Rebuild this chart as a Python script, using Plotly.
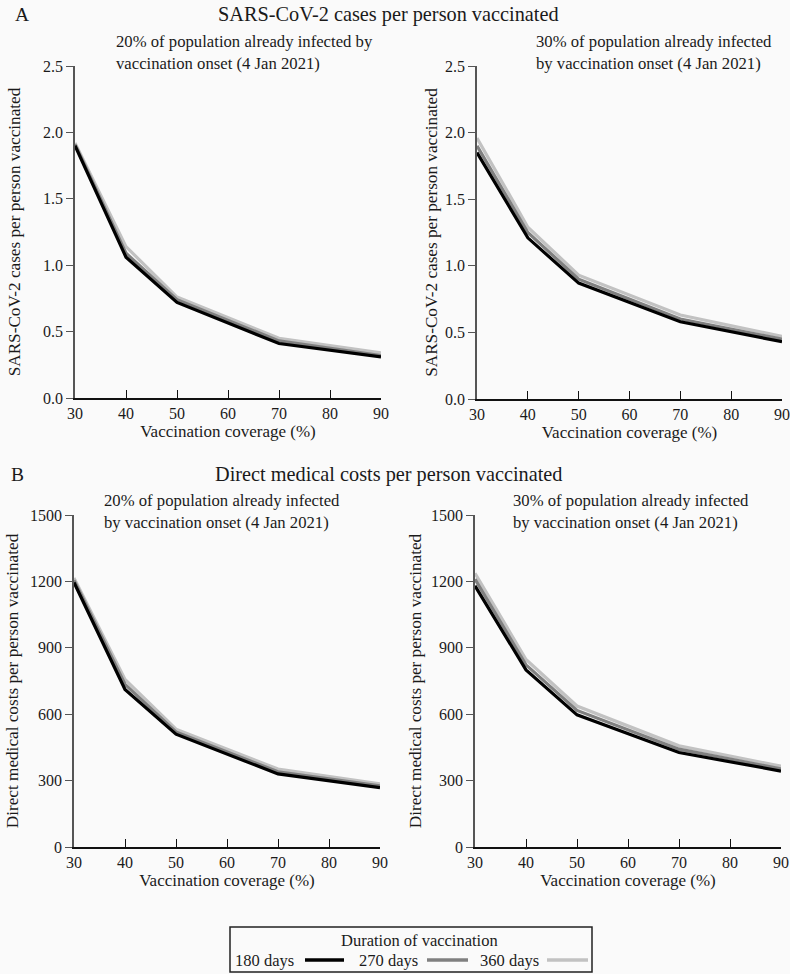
import plotly.graph_objects as go

# ---------------- data ----------------
coverage = [30, 40, 50, 70, 90]
durations = ["180 days", "270 days", "360 days"]
colors = ["#000000", "#808080", "#c2c2c2"]

cases_20 = {
    "180 days": [1.90, 1.06, 0.72, 0.41, 0.31],
    "270 days": [1.91, 1.09, 0.74, 0.43, 0.32],
    "360 days": [1.92, 1.14, 0.76, 0.45, 0.34],
}
cases_30 = {
    "180 days": [1.85, 1.21, 0.87, 0.58, 0.43],
    "270 days": [1.90, 1.25, 0.90, 0.60, 0.45],
    "360 days": [1.96, 1.29, 0.93, 0.63, 0.47],
}
costs_20 = {
    "180 days": [1195, 712, 510, 330, 268],
    "270 days": [1205, 735, 520, 340, 276],
    "360 days": [1215, 757, 532, 352, 285],
}
costs_30 = {
    "180 days": [1180, 800, 597, 427, 343],
    "270 days": [1210, 823, 617, 442, 353],
    "360 days": [1237, 847, 637, 457, 365],
}

x_ticks = [30, 40, 50, 60, 70, 80, 90]
cases_ticks = [0.0, 0.5, 1.0, 1.5, 2.0, 2.5]
cases_ticktext = ["0.0", "0.5", "1.0", "1.5", "2.0", "2.5"]
cost_ticks = [0, 300, 600, 900, 1200, 1500]

title_a = "SARS-CoV-2 cases per person vaccinated"
title_b = "Direct medical costs per person vaccinated"
sub_a20 = "20% of population already infected by<br>vaccination onset (4 Jan 2021)"
sub_a30 = "30% of population already infected<br>by vaccination onset (4 Jan 2021)"
sub_b20 = "20% of population already infected<br>by vaccination onset (4 Jan 2021)"
sub_b30 = "30% of population already infected<br>by vaccination onset (4 Jan 2021)"
x_title = "Vaccination coverage (%)"
legend_title = "Duration of vaccination"

# ---------------- layout helpers ----------------
W, H = 790, 974
FAM = "Liberation Serif"
TXT = "#1a1a1a"
BG = "#fafafa"


def fnt(size, color=TXT):
    return dict(family=FAM, size=size, color=color)


def px(x):
    return x / W


def py(y):
    return 1 - y / H


panels = [
    # (xaxis, yaxis, x0, x1, ytop, ybottom, data, y-title standoff)
    ("x", "y", 75, 381, 66, 398, cases_20, 18),
    ("x2", "y2", 477, 782, 66, 399, cases_30, 3),
    ("x3", "y3", 74, 380, 515, 847, costs_20, 7),
    ("x4", "y4", 475, 781, 515, 847, costs_30, 5),
]

fig = go.Figure()

for xa, ya, x0, x1, yt, yb, data, so in panels:
    for name, col in reversed(list(zip(durations, colors))):
        fig.add_trace(go.Scatter(
            x=coverage, y=data[name], mode="lines", name=name,
            line=dict(color=col, width=3.2), xaxis=xa, yaxis=ya,
            showlegend=False,
        ))

layout = dict(
    width=W, height=H,
    margin=dict(l=0, r=0, t=0, b=0, pad=0, autoexpand=False),
    paper_bgcolor=BG, plot_bgcolor=BG,
    font=fnt(16),
    showlegend=False,
)

for i, (xa, ya, x0, x1, yt, yb, data, so) in enumerate(panels):
    xk = "xaxis" if xa == "x" else "xaxis" + xa[1:]
    yk = "yaxis" if ya == "y" else "yaxis" + ya[1:]
    is_cases = i < 2
    layout[xk] = dict(
        domain=[px(x0), px(x1)], anchor=ya, range=[30, 90],
        tickvals=x_ticks, ticks="inside", ticklen=8, tickwidth=1.3,
        tickcolor="#111", showline=True, linecolor="#111", linewidth=1.5,
        showgrid=False, zeroline=False, tickfont=fnt(16), automargin=False,
        ticklabeloverflow="allow",
        title=dict(text=x_title, font=fnt(17), standoff=3),
    )
    ytitle = title_a if is_cases else title_b
    layout[yk] = dict(
        domain=[py(yb), py(yt)], anchor=xa,
        range=[0, 2.5] if is_cases else [0, 1500],
        tickvals=cases_ticks if is_cases else cost_ticks,
        ticktext=cases_ticktext if is_cases else [str(v) for v in cost_ticks],
        ticks="outside", ticklen=7, tickwidth=1.3, tickcolor="#555",
        showline=True, linecolor="#555", linewidth=1.5, automargin=False,
        showgrid=False, zeroline=False, tickfont=fnt(16),
        title=dict(text=ytitle, font=fnt(17.2), standoff=so),
    )

annotations = [
    dict(text="A", x=px(22), y=py(14), font=fnt(19.5)),
    dict(text=title_a, x=px(388), y=py(14), font=fnt(20.3)),
    dict(text="B", x=px(17), y=py(474), font=fnt(19.5)),
    dict(text=title_b, x=px(388), y=py(474), font=fnt(20.3)),
]
subs = [
    (sub_a20, 114, 52),
    (sub_a30, 534, 52),
    (sub_b20, 102, 511),
    (sub_b30, 511, 511),
]
for txt, sx, sy in subs:
    annotations.append(dict(text=txt, x=px(sx), y=py(sy), xanchor="left",
                            align="left", font=fnt(16.7)))

# custom legend (text before line sample, as in the reference)
shapes = [dict(type="rect", xref="paper", yref="paper",
               x0=px(230), x1=px(592), y0=py(972), y1=py(927),
               line=dict(color="#222", width=1.5), fillcolor=BG)]
annotations.append(dict(text=legend_title, x=px(420), y=py(940),
                        font=fnt(16.5)))
legend_text_right = [296, 420, 541]
legend_line = [(305, 344), (427, 468), (547, 588)]
for name, col, tr, (l0, l1) in zip(durations, colors, legend_text_right, legend_line):
    annotations.append(dict(text=name, x=px(tr), y=py(960), xanchor="right",
                            font=fnt(16.5)))
    shapes.append(dict(type="line", xref="paper", yref="paper",
                       x0=px(l0), x1=px(l1), y0=py(960), y1=py(960),
                       line=dict(color=col, width=3.5)))

for a in annotations:
    a.setdefault("xref", "paper")
    a.setdefault("yref", "paper")
    a.setdefault("showarrow", False)
    a.setdefault("xanchor", "center")
    a.setdefault("yanchor", "middle")

layout["annotations"] = annotations
layout["shapes"] = shapes
fig.update_layout(**layout)

fig.write_html(
    "out.html",
    config={"displayModeBar": False},
    post_script="document.body.style.margin='0';document.body.style.background='#fafafa';",
)
